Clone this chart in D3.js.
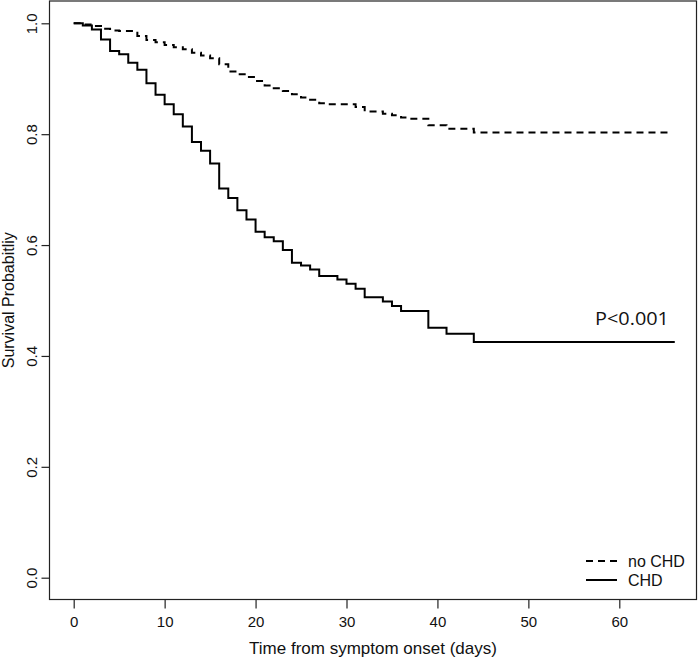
<!DOCTYPE html>
<html><head><meta charset="utf-8">
<script src="https://cdn.jsdelivr.net/npm/d3@7"></script>
<style>
html,body{margin:0;padding:0;background:#fff;}
svg{display:block;}
</style></head>
<body>
<svg id="chart" width="699" height="659"></svg>
<script>
// ---- data ----
const chdTime = [0,1,2,3,4,5,6,7,8,9,10,11,12,13,14,15,16,17,18,19,20,21,22,23,24,25,26,27,29,30,31,32,34,35,36,39,41,44];
const chdSurv = [1.000,0.996,0.989,0.971,0.950,0.944,0.929,0.916,0.892,0.871,0.854,0.836,0.814,0.786,0.770,0.747,0.702,0.685,0.663,0.646,0.624,0.614,0.607,0.591,0.568,0.563,0.556,0.544,0.538,0.530,0.521,0.506,0.498,0.490,0.481,0.451,0.440,0.425];
const chdEnd = 66.1;
const noChdTime = [0,1,2,3,4,5,7,8,9,10,11,12,13,14,15,16,17,18,19,20,21,22,23,24,25,26,27,28,31,32,34,35,36,37,39,41,44];
const noChdSurv = [1.000,0.998,0.995,0.990,0.987,0.986,0.977,0.970,0.966,0.961,0.957,0.953,0.947,0.942,0.937,0.926,0.913,0.908,0.903,0.896,0.888,0.883,0.878,0.872,0.866,0.862,0.856,0.854,0.849,0.841,0.837,0.834,0.830,0.828,0.816,0.810,0.803];
const noChdEnd = 65.4;
const xTicks = [0,10,20,30,40,50,60];
const yTicks = [0.0,0.2,0.4,0.6,0.8,1.0];
const legendLabels = ["no CHD","CHD"];
const pText = "P<0.001";
const xTitle = "Time from symptom onset (days)";
const yTitle = "Survival Probabitliy";

// ---- layout ----
const svg = d3.select("#chart");
const box = {left:49.5, right:696.5, top:1, bottom:599.5};
const x = d3.scaleLinear().domain([0,60]).range([73.7,619.3]);
const y = d3.scaleLinear().domain([0,1]).range([577.7,23.3]);
const font = "'Liberation Sans', Arial, Helvetica, sans-serif";

// box
svg.append("rect").attr("x",box.left).attr("y",box.top)
  .attr("width",box.right-box.left).attr("height",box.bottom-box.top)
  .attr("fill","none").attr("stroke","#222").attr("stroke-width",1.2);

// x axis
const xAxis = d3.axisBottom(x).tickValues(xTicks).tickSize(9).tickPadding(8).tickFormat(d3.format("d"));
const gx = svg.append("g").attr("transform",`translate(0,${box.bottom})`).call(xAxis);
gx.select(".domain").remove();
gx.selectAll(".tick line").attr("stroke","#222").attr("stroke-width",1.2);
gx.selectAll(".tick text").attr("font-family",font).attr("font-size",15).attr("fill","#111");

// y axis
const yAxis = d3.axisLeft(y).tickValues(yTicks).tickSize(8).tickFormat(d3.format(".1f"));
const gy = svg.append("g").attr("transform",`translate(${box.left},0)`).call(yAxis);
gy.select(".domain").remove();
gy.selectAll(".tick line").attr("stroke","#222").attr("stroke-width",1.2);
gy.selectAll(".tick text").attr("font-family",font).attr("font-size",15).attr("fill","#111")
  .attr("x",null).attr("dy",null).attr("text-anchor","middle")
  .attr("transform","translate(-18,0) rotate(-90)").attr("dominant-baseline","auto")
  .attr("y",5);

// titles
svg.append("text").attr("x",(box.left+box.right)/2).attr("y",654).attr("text-anchor","middle")
  .attr("font-family",font).attr("font-size",17).attr("fill","#111").text(xTitle);
svg.append("text").attr("transform",`translate(14,${(box.top+box.bottom)/2}) rotate(-90)`)
  .attr("text-anchor","middle").attr("font-family",font).attr("font-size",16).attr("fill","#111").text(yTitle);

// curves
const line = d3.line().x(d=>x(d[0])).y(d=>y(d[1])).curve(d3.curveStepAfter);
function pts(t,s,end){const p=t.map((d,i)=>[d,s[i]]);p.push([end,s[s.length-1]]);return p;}
svg.append("path").datum(pts(noChdTime,noChdSurv,noChdEnd)).attr("d",line)
  .attr("fill","none").attr("stroke","#000").attr("stroke-width",2).attr("stroke-dasharray","7,5");
svg.append("path").datum(pts(chdTime,chdSurv,chdEnd)).attr("d",line)
  .attr("fill","none").attr("stroke","#000").attr("stroke-width",2);

// legend
const lg = svg.append("g");
const legY = [561,580];
legendLabels.forEach((lab,i)=>{
  lg.append("line").attr("x1",586).attr("x2",617).attr("y1",legY[i]).attr("y2",legY[i])
    .attr("stroke","#000").attr("stroke-width",2).attr("stroke-dasharray",i===0?"7,5":null);
  lg.append("text").attr("x",628).attr("y",legY[i]+5.5).attr("font-family",font).attr("font-size",16)
    .attr("fill","#111").text(lab);
});

// p value
svg.append("text").attr("x",595).attr("y",325).attr("font-family","'Open Sans', Lato, sans-serif")
  .attr("font-size",18).attr("fill","#111").attr("textLength",74).attr("lengthAdjust","spacingAndGlyphs").text(pText);
</script>
</body></html>
